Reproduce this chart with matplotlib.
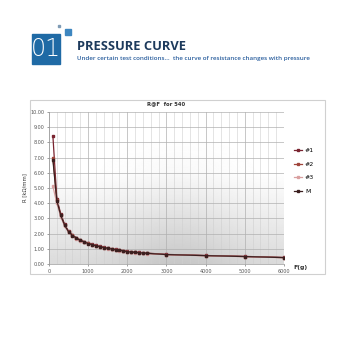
import numpy as np
import matplotlib.pyplot as plt
from matplotlib.patches import Rectangle

# Data
force = [100, 200, 300, 400, 500, 600, 700, 800, 900, 1000,
         1100, 1200, 1300, 1400, 1500, 1600, 1700, 1800, 1900, 2000,
         2100, 2200, 2300, 2400, 2500, 3000, 4000, 5000, 6000]
r1 = [8.40, 4.30, 3.30, 2.60, 2.15, 1.90, 1.72, 1.58, 1.47, 1.37,
      1.29, 1.22, 1.16, 1.10, 1.05, 1.00, 0.96, 0.92, 0.88, 0.83,
      0.80, 0.78, 0.76, 0.74, 0.72, 0.63, 0.56, 0.50, 0.43]
r2 = [7.00, 4.20, 3.20, 2.55, 2.12, 1.88, 1.70, 1.56, 1.45, 1.35,
      1.27, 1.20, 1.14, 1.08, 1.03, 0.98, 0.94, 0.90, 0.86, 0.81,
      0.78, 0.76, 0.74, 0.72, 0.70, 0.62, 0.55, 0.49, 0.42]
r3 = [5.10, 4.00, 3.10, 2.48, 2.08, 1.84, 1.66, 1.53, 1.42, 1.32,
      1.24, 1.17, 1.11, 1.06, 1.01, 0.96, 0.92, 0.88, 0.84, 0.79,
      0.76, 0.74, 0.72, 0.70, 0.68, 0.61, 0.54, 0.48, 0.41]
rm = list(np.mean([r1, r2, r3], axis=0))
series = [("#1", r1, "#7a2430"), ("#2", r2, "#a0463c"),
          ("#3", r3, "#d9a0a0"), ("M", rm, "#3b1f1f")]

xticks = [0, 1000, 2000, 3000, 4000, 5000, 6000]
yticks = np.arange(0, 10.01, 1.0)

fig = plt.figure(figsize=(3.4, 3.4), dpi=100)
fig.patch.set_facecolor("white")

# Header
fig.patches.append(Rectangle((31.5 / 340, 1 - 64 / 340), 28.5 / 340, 30 / 340,
                             transform=fig.transFigure, color="#1f6aa5"))
fig.patches.append(Rectangle((65 / 340, 1 - 35 / 340), 5.5 / 340, 5.5 / 340,
                             transform=fig.transFigure, color="#3d86c0"))
fig.patches.append(Rectangle((57.5 / 340, 1 - 27 / 340), 2.5 / 340, 2.5 / 340,
                             transform=fig.transFigure, color="#7f9bb5"))
fig.text(45.5 / 340, 1 - 49 / 340, "01", color="white", fontsize=17,
         ha="center", va="center", fontweight="light")
fig.text(77 / 340, 1 - 47 / 340, "PRESSURE CURVE", color="#1d3a5c",
         fontsize=9.3, fontweight="bold", va="center", family="Open Sans")
fig.text(77 / 340, 1 - 58.5 / 340,
         "Under certain test conditions\u2026  the curve of resistance changes with pressure",
         color="#2b5f9e", fontsize=4.5, va="center", family="Open Sans",
         fontweight="semibold")

# Chart frame
fig.patches.append(Rectangle((30 / 340, 1 - 274 / 340), 295 / 340, 174 / 340,
                             transform=fig.transFigure, fill=False,
                             ec="#d0d0d0", lw=0.8))

ax = fig.add_axes([49 / 340, 1 - 264 / 340, 235 / 340, 152 / 340])

# Shaded background
gx = np.linspace(0, 1, 200)
gy = np.linspace(0, 1, 200)
GX, GY = np.meshgrid(gx, gy)
shade = 0.14 * np.clip(1 - GY / 0.6, 0, 1) + 0.08 * np.exp(-((GX - 0.55) / 0.25) ** 2) * np.clip(1 - GY / 0.85, 0, 1)
ax.imshow(1 - shade, extent=[0, 6000, 0, 10], origin="lower", cmap="gray",
          vmin=0, vmax=1, aspect="auto", zorder=0)

ax.set_xlim(0, 6000)
ax.set_ylim(0, 10)
ax.set_xticks(xticks)
ax.set_yticks(yticks)
ax.set_xticklabels([str(v) for v in xticks])
ax.set_yticklabels([f"{v:.2f}" for v in yticks])
ax.set_xticks(np.arange(0, 6001, 200), minor=True)
ax.grid(True, which="major", color="#b0b0b0", lw=0.5)
ax.grid(True, which="minor", axis="x", color="#cfcfcf", lw=0.4)
ax.tick_params(labelsize=3.5, colors="#555555", length=1.5, width=0.4, pad=2)
ax.tick_params(which="minor", length=0)
for s in ax.spines.values():
    s.set_visible(False)
ax.spines["left"].set_visible(True)
ax.spines["bottom"].set_visible(True)
ax.spines["left"].set_color("#999999")
ax.spines["bottom"].set_color("#999999")
ax.spines["left"].set_linewidth(0.5)
ax.spines["bottom"].set_linewidth(0.5)

for name, vals, col in series:
    ax.plot(force, vals, color=col, lw=0.9, marker="s", ms=1.6, label=name)

ax.set_title("R@F  for 540", fontsize=3.8, fontweight="bold", color="#333333", pad=5)
ax.set_ylabel("R [kΩ/mm]", fontsize=3.8, color="#333333", labelpad=2)
ax.text(6250, -0.25, "F(g)", fontsize=4.5, fontweight="bold", color="#333333",
        va="center")
ax.legend(loc="upper left", bbox_to_anchor=(1.02, 0.80), frameon=False,
          fontsize=4.5, handlelength=1.2, labelspacing=1.3, handletextpad=0.5)

fig.savefig("out.png", dpi=100)
